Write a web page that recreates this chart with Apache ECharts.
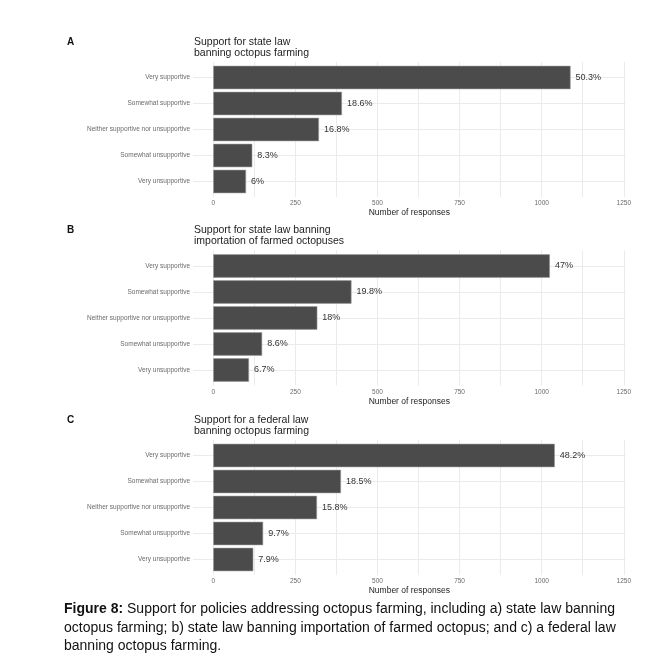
<!DOCTYPE html>
<html>
<head>
<meta charset="utf-8">
<script src="https://cdn.jsdelivr.net/npm/echarts@6/dist/echarts.min.js"></script>
<style>
html,body{margin:0;padding:0;background:#fff;}
#main{width:670px;height:665px;}
</style>
</head>
<body>
<div id="main"></div>
<script>
const categories = ['Very supportive', 'Somewhat supportive', 'Neither supportive nor unsupportive', 'Somewhat unsupportive', 'Very unsupportive'];
const countsA = [1088, 392, 322, 119, 100];
const countsB = [1025, 421, 317, 149, 109];
const countsC = [1040, 389, 316, 152, 122];
const pctA = ['50.3%', '18.6%', '16.8%', '8.3%', '6%'];
const pctB = ['47%', '19.8%', '18%', '8.6%', '6.7%'];
const pctC = ['48.2%', '18.5%', '15.8%', '9.7%', '7.9%'];
const panelLetters = ['A', 'B', 'C'];
const panelTitles = ['Support for state law\nbanning octopus farming', 'Support for state law banning\nimportation of farmed octopuses', 'Support for a federal law\nbanning octopus farming'];
const xAxisTitle = 'Number of responses';
const xMin = 0, xMax = 1250, xInterval = 250;
const captionBold = 'Figure 8:';
const captionLines = [' Support for policies addressing octopus farming, including a) state law banning', 'octopus farming; b) state law banning importation of farmed octopus; and c) a federal law', 'banning octopus farming.'];

const counts = [countsA, countsB, countsC];
const pcts = [pctA, pctB, pctC];
const firstCenter = [77.5, 266, 455.5];
const band = 26;
const FONT = '"Liberation Sans", Arial, sans-serif';
const gridLeft = 213.2, gridWidth = 410.6, panelLeft = 193, panelRight = 625.7;
const gridColor = '#ebebeb';

const grids = [], xAxes = [], yAxes = [], series = [], titles = [], graphics = [];
for (let i = 0; i < 3; i++) {
  const c1 = firstCenter[i];
  // main grid (bars)
  grids.push({ left: gridLeft, width: gridWidth, top: c1 - band / 2, height: band * 5, containLabel: false });
  // background grid for horizontal gridlines spanning the full panel width
  grids.push({ left: panelLeft, width: panelRight - panelLeft, top: c1 - band / 2, height: band * 5, containLabel: false });
  xAxes.push({
    type: 'value', gridIndex: 2 * i, min: xMin, max: xMax, interval: xInterval, offset: 0.6 * band - band / 2,
    axisLine: { show: false },
    axisTick: { show: true, inside: true, length: band * 5.2, lineStyle: { color: gridColor, width: 1 } },
    minorTick: { show: true, splitNumber: 2, length: band * 5.2, lineStyle: { color: gridColor, width: 1 } },
    splitLine: { show: false },
    axisLabel: { margin: 3, fontSize: 6.5, color: '#6a6a6a', fontFamily: FONT, formatter: v => String(v) }
  });
  xAxes.push({
    type: 'value', gridIndex: 2 * i + 1, min: 0, max: 1, show: false
  });
  yAxes.push({
    type: 'category', gridIndex: 2 * i, data: categories, inverse: true, offset: gridLeft - panelLeft,
    axisLine: { show: false },
    axisTick: { show: false },
    splitLine: { show: false },
    axisLabel: { margin: 3, fontSize: 6.5, color: '#6a6a6a', fontFamily: FONT }
  });
  yAxes.push({
    type: 'category', gridIndex: 2 * i + 1, data: categories, inverse: true,
    axisLine: { show: false },
    axisTick: { show: true, inside: true, alignWithLabel: true, length: panelRight - panelLeft, lineStyle: { color: gridColor, width: 1 } },
    splitLine: { show: false },
    axisLabel: { show: false }
  });
  const labels = pcts[i];
  series.push({
    type: 'bar', xAxisIndex: 2 * i, yAxisIndex: 2 * i, data: counts[i], barCategoryGap: '10%',
    itemStyle: { color: '#4b4b4b', borderColor: '#9a9a9a', borderWidth: 0.6 },
    label: { show: true, position: 'right', distance: 5, fontSize: 9, color: '#333', fontFamily: FONT,
      formatter: p => labels[p.dataIndex] },
    silent: true, animation: false, z: 5
  });
  titles.push({ text: panelLetters[i], left: 67, top: c1 - 40.5, padding: 0,
    textStyle: { fontSize: 10, fontWeight: 'bold', color: '#111', fontFamily: FONT } });
  titles.push({ text: panelTitles[i], left: 194, top: c1 - 41, padding: 0,
    textStyle: { fontSize: 10.5, fontWeight: 'normal', color: '#222', lineHeight: 11, fontFamily: FONT } });
  graphics.push({ type: 'text', x: (panelLeft + panelRight) / 2, y: c1 + 135.5,
    style: { text: xAxisTitle, align: 'center', verticalAlign: 'middle', fontSize: 8.5, fill: '#222', fontFamily: FONT } });
}
titles.push({
  text: '{b|' + captionBold + '}' + captionLines.join('\n'), left: 64, top: 600, padding: 0,
  textStyle: { fontSize: 14, color: '#111', lineHeight: 18.5, fontFamily: FONT, fontWeight: 'normal',
    rich: { b: { fontWeight: 'bold', fontSize: 14, color: '#111', lineHeight: 18.5, fontFamily: FONT } } }
});

const chart = echarts.init(document.getElementById('main'), null, { renderer: 'canvas' });
chart.setOption({
  backgroundColor: '#fff',
  animation: false,
  title: titles,
  grid: grids,
  xAxis: xAxes,
  yAxis: yAxes,
  series: series,
  graphic: graphics
});
</script>
</body>
</html>
